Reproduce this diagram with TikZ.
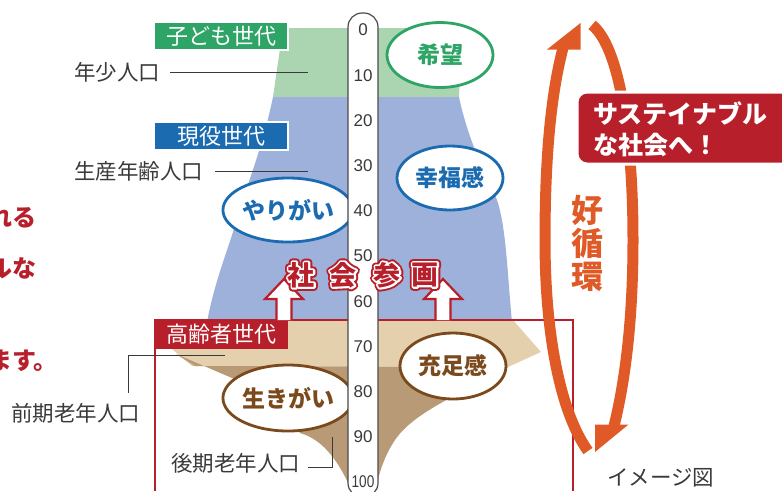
\documentclass[tikz,border=0pt]{standalone}
\usepackage{fontspec}
\setmainfont{Noto Sans CJK JP}
\newfontfamily\numfont{Liberation Sans}
\newfontfamily\outerfont{Noto Sans CJK JP}[BoldFeatures={FakeBold=28}]
\newfontfamily\innerfont{Noto Sans CJK JP}[BoldFeatures={FakeBold=14}]
\usetikzlibrary{shapes.geometric,calc}
\definecolor{greenfill}{HTML}{ABD4B1}
\definecolor{greendark}{HTML}{2EA466}
\definecolor{bluefill}{HTML}{9DB1DB}
\definecolor{bluedark}{HTML}{1B6BB0}
\definecolor{beigefill}{HTML}{E5D0AD}
\definecolor{brownfill}{HTML}{B89A77}
\definecolor{browndark}{HTML}{7B4A1C}
\definecolor{myred}{HTML}{B71F2A}
\definecolor{myorange}{HTML}{E05A27}
\definecolor{txtgrey}{HTML}{3A3A3A}
\definecolor{thermgrey}{HTML}{4A4A4A}
\tikzset{
  lbl/.style={font=\fontsize{21.5}{23}\selectfont, text=txtgrey, inner sep=0pt},
  genbox/.style={minimum width=134pt, minimum height=28pt, inner sep=0pt, draw=white, line width=1.5pt, text=white, font=\fontsize{22}{24}\selectfont},
  feel/.style={ellipse, draw, line width=2.8pt, fill=white, minimum width=106pt, minimum height=64pt, inner sep=0pt, font=\bfseries\fontsize{23}{25}\selectfont},
  num/.style={font=\numfont\fontsize{17}{18}\selectfont, text=txtgrey, inner sep=0pt},
  leader/.style={draw=txtgrey, line width=1pt},
  upar/.style={fill=white, draw=myred, line width=2.2pt, line join=miter},
  sanka/.style={inner sep=0pt},
  cyc/.style={draw=myorange, line width=11pt},
  redtxt/.style={font=\bfseries\fontsize{24}{26}\selectfont, text=myred, inner sep=0pt},
}
\newcommand{\outlinedchar}[3]{%
  \node[sanka, text=myred, font=\outerfont\bfseries\fontsize{27}{28}\selectfont] at (#2) {#3};
  \node[sanka, text=white, font=\innerfont\bfseries\fontsize{27}{28}\selectfont] at (#2) {#3};
  \node[sanka, text=myred, font=\bfseries\fontsize{27}{28}\selectfont] (#1) at (#2) {#3};
}
\begin{document}
\begin{tikzpicture}[x=1pt,y=-1pt]
\useasboundingbox (0,0) rectangle (782,491);
% population shapes
\fill[greenfill] (283,28) -- (462,28) -- (459,97) -- (273,97) -- cycle;
\fill[bluefill] (273,97) -- (459,97) .. controls (466,130) and (478,160) .. (495,195)
  .. controls (506,220) and (507,270) .. (512,322) -- (207,322)
  .. controls (215,280) and (228,250) .. (235,225) .. controls (245,190) and (262,150) .. (273,97) -- cycle;
\fill[beigefill] (200,320) -- (513,320) -- (541,352) -- (508,367) -- (192,366) -- (172,349) -- (185,340) -- cycle;
\fill[brownfill] (176,354) -- (195,366) -- (508,367) .. controls (470,390) and (415,410) .. (395,440)
  .. controls (385,455) and (380,470) .. (376,487) -- (350,487)
  .. controls (340,465) and (325,440) .. (300,433) -- (260,390) -- cycle;
% red frame
\draw[myred, line width=2pt] (155,491) -- (155,320) -- (573,320) -- (573,491);
% left red text (cut off)
\node[redtxt, anchor=base west] (l1) at (-12,226) {れる};
\node[redtxt, anchor=base west] (l2) at (-12,277) {ルな};
\node[redtxt, anchor=base west] (l3) at (-12,369) {ます。};
% labels and leaders
\node[lbl, anchor=west] (nensho) at (74,72) {年少人口};
\coordinate (c1) at (308,72);
\draw[leader] ([xshift=10pt]nensho.east) -- (c1);
\node[lbl, anchor=west] (seisan) at (74,171) {生産年齢人口};
\coordinate (c2) at (308,171);
\draw[leader] ([xshift=12pt]seisan.east) -- (c2);
\node[lbl, anchor=west] (zenki) at (11,413) {前期老年人口};
\coordinate (c3) at (128,355);
\coordinate (c4) at (225,355);
\draw[leader] ([xshift=117pt,yshift=10pt]zenki.north west) -- (c3) -- (c4);
\node[lbl, anchor=west] (kouki) at (171,463) {後期老年人口};
\coordinate (c5) at (332,437);
\draw[leader] ([xshift=8pt,yshift=-4pt]kouki.east) -| (c5);
\node[lbl, anchor=west] (image) at (607,478) {イメージ図};
% generation boxes
\node[genbox, fill=greendark] (kodomo) at (221,36) {子ども世代};
\node[genbox, fill=bluedark] (geneki) at (221,136) {現役世代};
\node[genbox, fill=myred, minimum height=29pt, draw=none] (koreisha) at (221,334.5) {高齢者世代};
% feeling ellipses
\node[feel, draw=greendark, text=greendark, minimum height=65pt] (kibou) at (440,55) {希望};
\node[feel, draw=bluedark, text=bluedark] (koufuku) at (450,178) {幸福感};
\node[feel, draw=bluedark, text=bluedark] (yarigai) at (288,210) {やりがい};
\node[feel, draw=browndark, text=browndark, minimum height=66pt] (ikigai) at (288,398) {生きがい};
\node[feel, draw=browndark, text=browndark, minimum height=66pt] (juusoku) at (453,366) {充足感};
% thermometer
\draw[fill=white, draw=thermgrey, line width=1.2pt, rounded corners=14pt] (348,13) rectangle (378,497);
\foreach \i in {0,...,9} {\node[num] (n\i) at (363,30+45.2*\i) {\the\numexpr\i*10\relax};}
\node[num, xscale=0.8] (n10) at (363,482) {100};
% up arrows
\draw[upar] (276.5,320) -- (276.5,299) -- (265,299) -- (284,279) -- (303,299) -- (291.5,299) -- (291.5,320);
\draw[upar] (435.5,320) -- (435.5,299) -- (424,299) -- (443,279) -- (462,299) -- (450.5,299) -- (450.5,320);
% social participation
\begin{scope}[line join=round]
\outlinedchar{s1}{301,275}{社}
\outlinedchar{s2}{343,275}{会}
\outlinedchar{s3}{387,275}{参}
\outlinedchar{s4}{425,275}{画}
\end{scope}
% cycle arrows
\draw[cyc] (588,451) .. controls (562,415) and (545,340) .. (545,240) .. controls (545,150) and (552,90) .. (563,48);
\fill[myorange] (547,49.5) -- (580.5,49.5) -- (580.5,23) -- cycle;
\draw[cyc] (592,25) .. controls (618,45) and (633,130) .. (633,240) .. controls (633,330) and (623,390) .. (614,426);
\fill[myorange] (595,424.5) -- (628.5,424.5) -- (595,452) -- cycle;
% sustainable box
\draw[fill=myred, draw=white, line width=3pt, rounded corners=10pt] (577,92) rectangle (795,164);
\node[font=\bfseries\fontsize{25}{27}\selectfont, text=white, anchor=west, inner sep=0pt] (sus1) at (593,113) {サステイナブル};
\node[font=\bfseries\fontsize{25}{27}\selectfont, text=white, anchor=west, inner sep=0pt] (sus2) at (593,145) {な社会へ！};
% virtuous cycle
\node[font=\bfseries\fontsize{32}{34}\selectfont, text=myorange, inner sep=0pt, align=center] (kou) at (587,243) {好\\[-1pt]循\\[-1pt]環};
\end{tikzpicture}
\end{document}
